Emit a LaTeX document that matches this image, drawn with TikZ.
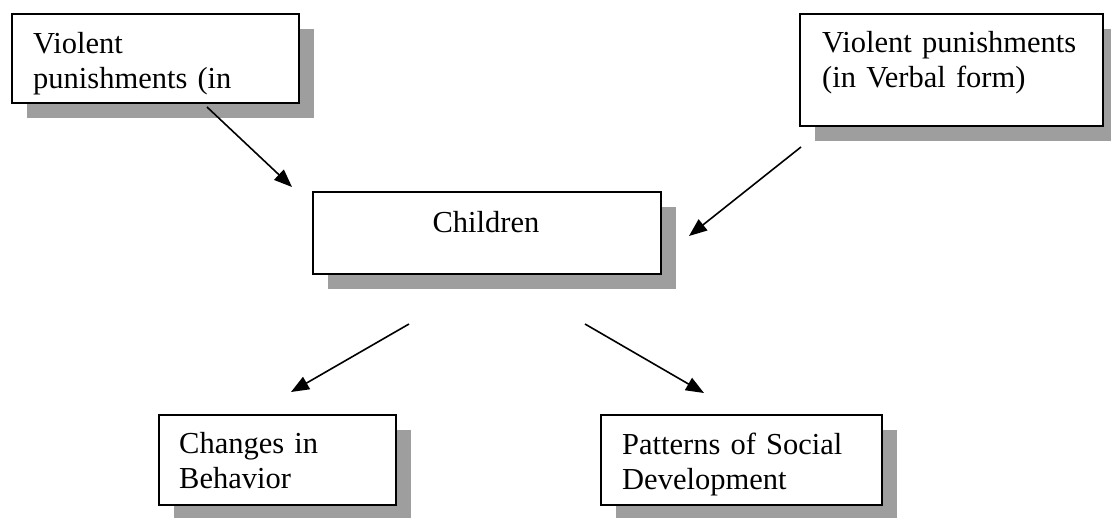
\documentclass[tikz,border=0pt]{standalone}
\usepackage{fontspec}
\setmainfont{Liberation Serif}
\usetikzlibrary{arrows.meta}
\begin{document}
\begin{tikzpicture}[x=1pt,y=-1pt,
  shadowbox/.style={fill=black!38,draw=none},
  framebox/.style={draw=black,fill=white,line width=1.7pt,inner sep=0pt,anchor=north west},
  lbl/.style={font=\fontsize{30.5}{35}\selectfont,inner sep=0pt,text width=300pt,align=left,anchor=base west},
  conn/.style={line width=1.6pt,-{Triangle[length=18pt,width=14pt]}}]
\useasboundingbox (0,0) rectangle (1111,517);
\clip (0,0) rectangle (1111,517);
% shadows
\fill[shadowbox] (27,29) rectangle (314,118);
\fill[shadowbox] (815,29) rectangle (1118,141);
\fill[shadowbox] (328,207) rectangle (676,289);
\fill[shadowbox] (174,430) rectangle (411,520);
\fill[shadowbox] (616,430) rectangle (897,520);
% boxes
\node[framebox,minimum width=287pt,minimum height=89pt] (b1) at (11,13) {};
\node[framebox,minimum width=303pt,minimum height=112pt] (b2) at (799,13) {};
\node[framebox,minimum width=348pt,minimum height=82pt] (ch) at (312,191) {};
\node[framebox,minimum width=237pt,minimum height=90pt] (cb) at (158,414) {};
\node[framebox,minimum width=281pt,minimum height=90pt] (ps) at (600,414) {};
% texts
\node[lbl] (t1) at (33,53) {Violent\\punishments (in};
\node[lbl] (t2) at (822,52) {Violent punishments\\(in Verbal form)};
\node[font=\fontsize{30.5}{35}\selectfont,inner sep=0pt,anchor=base] (tch) at (486,232) {Children};
\node[lbl] (t4) at (179,453) {Changes in\\Behavior};
\node[lbl] (t5) at (622,454) {Patterns of Social\\Development};
% connector ends
\coordinate (a1s) at (207,107); \coordinate (a1e) at (292,187);
\coordinate (a2s) at (801,147); \coordinate (a2e) at (689,236);
\coordinate (a3s) at (409,324); \coordinate (a3e) at (291,392);
\coordinate (a4s) at (585,324); \coordinate (a4e) at (704,393);
\draw[conn] (a1s) -- (a1e);
\draw[conn] (a2s) -- (a2e);
\draw[conn] (a3s) -- (a3e);
\draw[conn] (a4s) -- (a4e);
\end{tikzpicture}
\end{document}
